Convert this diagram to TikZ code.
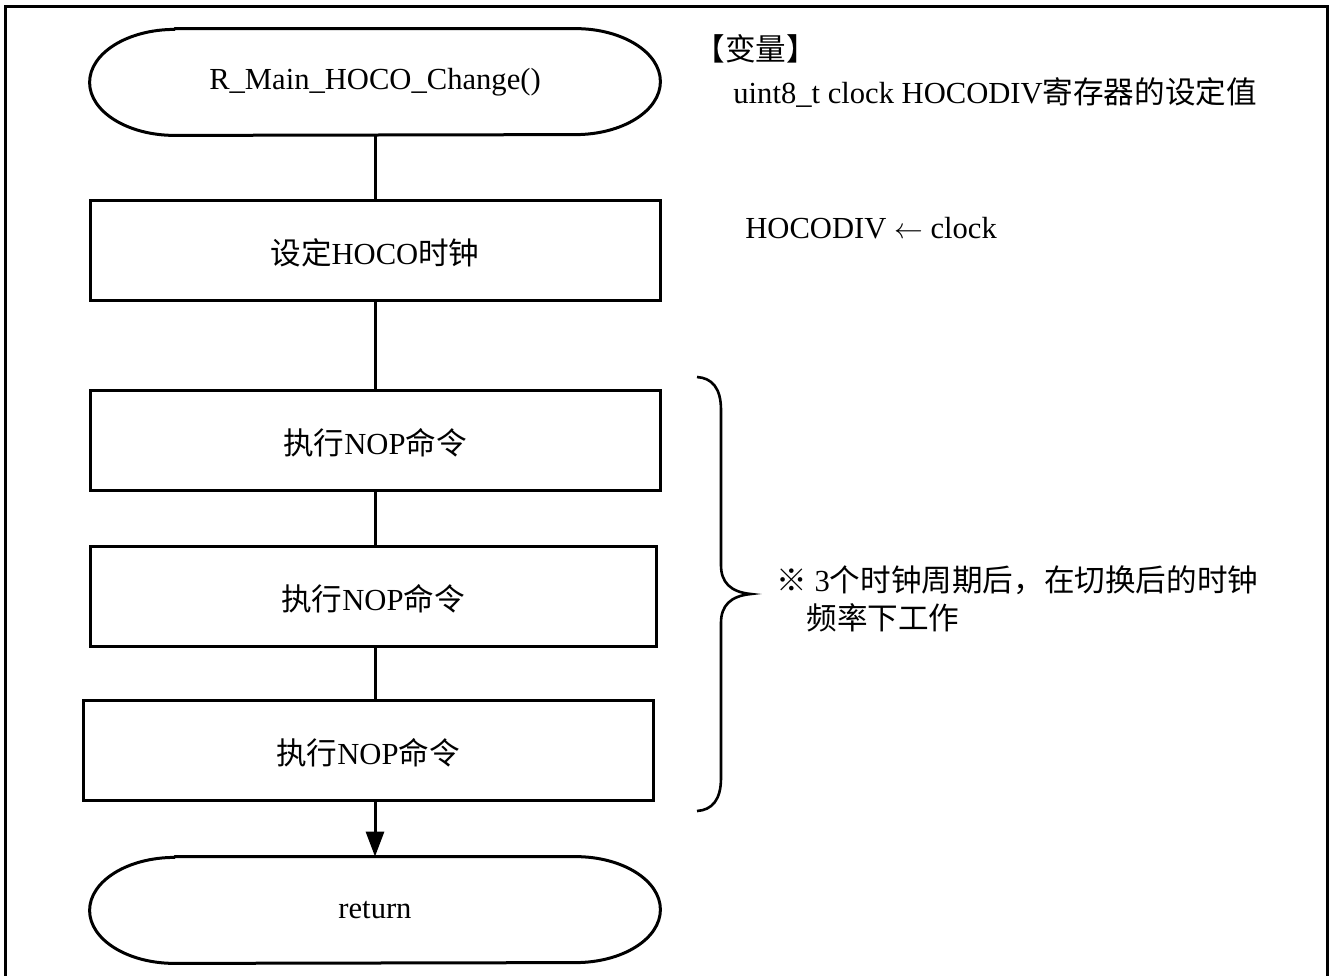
\documentclass[tikz,border=0pt]{standalone}
\usepackage{fontspec}
\setmainfont{Liberation Serif}
\newfontfamily\cjk{Noto Sans CJK SC}
\usetikzlibrary{arrows.meta}

% draws a flowchart terminal (elliptic-ended stadium) around node #1
\newcommand\drawstadium[1]{%
  \draw[lw,line join=round] ([xshift=42.5pt]#1.north west) -- ([xshift=-42.5pt]#1.north east)
    arc[start angle=90,end angle=-90,x radius=42.5pt,y radius=26.5pt]
    -- ([xshift=42.5pt]#1.south west)
    arc[start angle=270,end angle=90,x radius=42.5pt,y radius=26.5pt] -- cycle;}

\begin{document}
\begin{tikzpicture}[x=0.5pt,y=-0.5pt,
  lw/.style={line width=1.5pt},
  every node/.style={font=\fontsize{15.3}{18}\selectfont},
  terminal/.style={minimum width=285pt,minimum height=53pt,inner sep=0pt},
  procbox/.style={draw,lw,minimum width=285pt,minimum height=50pt,inner sep=0pt,
    text height=17pt,text depth=3pt},
  note/.style={anchor=base west,inner sep=0pt},
  link/.style={lw},
  arrowlink/.style={lw,-{Triangle[length=12.5pt,width=9pt]}}]

  \clip (0,0) rectangle (1330,976);
  % outer frame (open at the bottom edge of the sheet)
  \draw[lw] (5,1000) -- (5,6) -- (1327,6) -- (1327,1000);

  % flow
  \node[terminal] (start) at (375,82) {R\_Main\_HOCO\_Change()};
  \drawstadium{start}
  \node[procbox] (setclk) at (375,250) {{\cjk 设定}HOCO{\cjk 时钟}};
  \node[procbox] (nop1) at (375,440) {{\cjk 执行}NOP{\cjk 命令}};
  \node[procbox,minimum width=283pt] (nop2) at (373,596) {{\cjk 执行}NOP{\cjk 命令}};
  \node[procbox] (nop3) at (368,750) {{\cjk 执行}NOP{\cjk 命令}};
  \node[terminal] (ret) at (375,910) {return};
  \drawstadium{ret}

  \draw[link] (start.south) -- (setclk.north);
  \draw[link] (setclk.south) -- (nop1.north);
  \draw[link] (nop1.south) -- (nop1.south |- nop2.north);
  \draw[link] (nop1.south |- nop2.south) -- (nop1.south |- nop3.north);
  \draw[arrowlink] (ret.north |- nop3.south) -- (ret.north);

  % annotations
  \node[note] (vartitle) at (694,60) {\cjk 【变量】};
  \node[note] (vardesc) at (733,103) {uint8\_t clock HOCODIV{\cjk 寄存器的设定值}};
  \node[note] (assign) at (745,238) {HOCODIV $\leftarrow$ clock};

  % brace grouping the three NOP steps
  \draw[line width=1.3pt] (697,377) .. controls (712,378) and (721,388) .. (721,410)
    -- (721,565) .. controls (721,582) and (730,592) .. (751,594)
    .. controls (730,596) and (721,606) .. (721,623)
    -- (721,778) .. controls (721,800) and (712,810) .. (697,811);

  \node[note] (remark1) at (776,591) {{\cjk ※} 3{\cjk 个时钟周期后，在切换后的时钟}};
  \node[note] (remark2) at (806,629) {\cjk 频率下工作};
\end{tikzpicture}
\end{document}
